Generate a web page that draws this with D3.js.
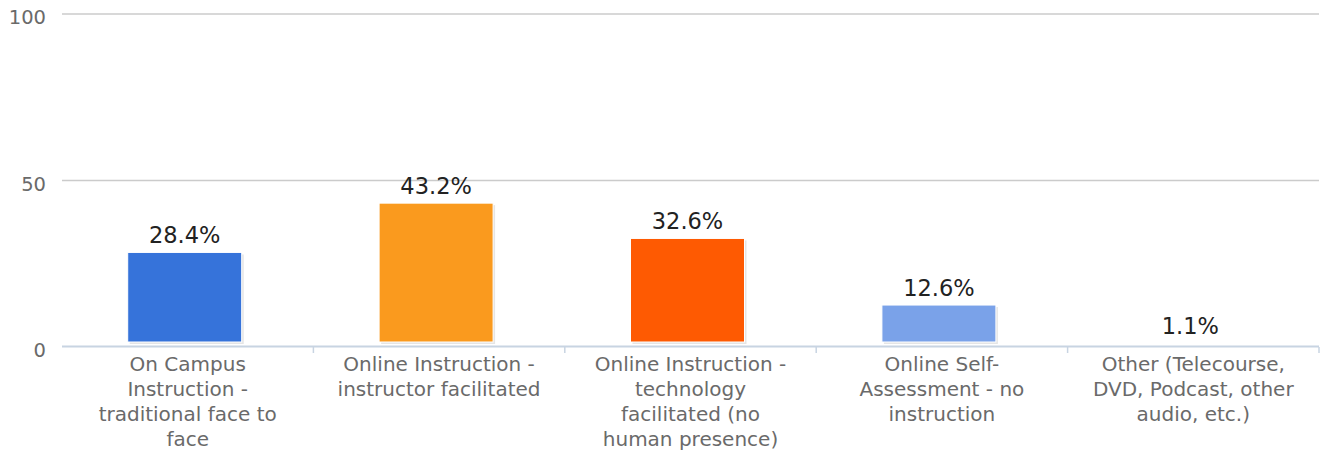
<!DOCTYPE html>
<html>
<head>
<meta charset="utf-8">
<script src="https://cdn.jsdelivr.net/npm/d3@7"></script>
<style>
  body { margin: 0; background: #fff; }
  svg { display: block; font-family: "DejaVu Sans", sans-serif; }
</style>
</head>
<body>
<svg id="chart" width="1322" height="454"></svg>
<script>
// chart data
var categories = [
  "On Campus Instruction - traditional face to face",
  "Online Instruction - instructor facilitated",
  "Online Instruction - technology facilitated (no human presence)",
  "Online Self-Assessment - no instruction",
  "Other (Telecourse, DVD, Podcast, other audio, etc.)"
];
var categoryLines = [
  ["On Campus", "Instruction -", "traditional face to", "face"],
  ["Online Instruction -", "instructor facilitated"],
  ["Online Instruction -", "technology", "facilitated (no", "human presence)"],
  ["Online Self-", "Assessment - no", "instruction"],
  ["Other (Telecourse,", "DVD, Podcast, other", "audio, etc.)"]
];
var values = [28.4, 43.2, 32.6, 12.6, 1.1];
var barColors = ["#3673da", "#fa9a1e", "#fe5a02", "#7aa2e9", "#a8c4ee"];
var yTicks = [0, 50, 100];

var svg = d3.select("#chart");
var plotLeft = 62, plotRight = 1319, plotTop = 14, plotBottom = 347;

var x = d3.scaleBand().domain(categories).range([plotLeft, plotRight]).padding(0);
var y = d3.scaleLinear().domain([0, 100]).range([plotBottom, plotTop]);

// gridlines (skip 0, that one is the axis)
svg.append("g").selectAll("line")
  .data(yTicks.filter(function(d) { return d > 0; }))
  .enter().append("line")
  .attr("x1", plotLeft).attr("x2", plotRight)
  .attr("y1", function(d) { return y(d); })
  .attr("y2", function(d) { return y(d); })
  .attr("stroke", "#cbcbcb")
  .attr("stroke-width", 1.6);

// y labels
svg.append("g").selectAll("text")
  .data(yTicks)
  .enter().append("text")
  .attr("x", 46)
  .attr("y", function(d) { return y(d) + 10; })
  .attr("text-anchor", "end")
  .attr("font-size", "19.5px")
  .attr("fill", "#6a6a6a")
  .text(function(d) { return d; });

// bars: small shadow + bar with white edge, bottom kept off the axis
var barW = 114, gap = 5;
function barX(i) { return x(categories[i]) + x.bandwidth() / 2 - 3 - barW / 2; }
function barH(d) { return Math.max(0, y(0) - y(d) - gap); }

var bars = svg.append("g").selectAll("g")
  .data(values)
  .enter().append("g");

bars.append("rect")
  .attr("x", function(d, i) { return barX(i) + 2; })
  .attr("y", function(d) { return y(d) + 2; })
  .attr("width", barW)
  .attr("height", barH)
  .attr("fill", "#999")
  .attr("opacity", 0.25);

bars.append("rect")
  .attr("x", function(d, i) { return barX(i); })
  .attr("y", function(d) { return y(d); })
  .attr("width", barW)
  .attr("height", barH)
  .attr("fill", function(d, i) { return barColors[i]; })
  .attr("stroke", "#fff")
  .attr("stroke-width", 1);

// value labels
bars.append("text")
  .attr("x", function(d, i) { return barX(i) + barW / 2; })
  .attr("y", function(d) { return y(d) - 9; })
  .attr("text-anchor", "middle")
  .attr("font-size", "22.5px")
  .attr("fill", "#222")
  .text(function(d) { return d.toFixed(1) + "%"; });

// x axis line and boundary ticks
svg.append("line")
  .attr("x1", plotLeft).attr("x2", plotRight)
  .attr("y1", plotBottom - 0.5).attr("y2", plotBottom - 0.5)
  .attr("stroke", "#c8d4e2")
  .attr("stroke-width", 2);

svg.append("g").selectAll("line")
  .data(categories.slice(1).concat(["end"]))
  .enter().append("line")
  .attr("x1", function(d) { return d == "end" ? plotRight : x(d); })
  .attr("x2", function(d) { return d == "end" ? plotRight : x(d); })
  .attr("y1", plotBottom).attr("y2", plotBottom + 6)
  .attr("stroke", "#c8d4e2")
  .attr("stroke-width", 1.5);

// category labels
svg.append("g").selectAll("text")
  .data(categories)
  .enter().append("text")
  .attr("x", function(d) { return x(d) + x.bandwidth() / 2; })
  .attr("y", 371)
  .attr("text-anchor", "middle")
  .attr("font-size", "20px")
  .attr("fill", "#6a6a6a")
  .each(function(d, i) {
    var t = d3.select(this);
    categoryLines[i].forEach(function(line, k) {
      t.append("tspan")
        .attr("x", x(d) + x.bandwidth() / 2)
        .attr("dy", k == 0 ? 0 : 25)
        .text(line);
    });
  });
</script>
</body>
</html>
